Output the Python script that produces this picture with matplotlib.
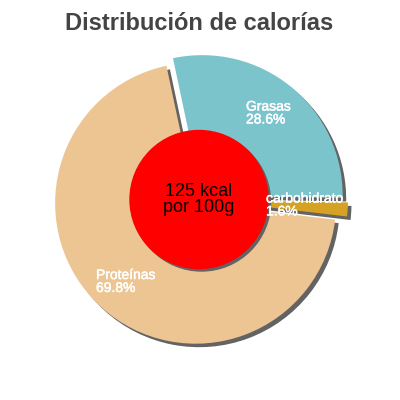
import matplotlib
matplotlib.use("Agg")
import matplotlib.pyplot as plt
import matplotlib.patheffects as pe
from matplotlib.patches import Circle

# data
labels = ["Grasas", "carbohidrato", "Proteínas"]
percents = [28.6, 1.6, 69.8]
colors = ["#7cc4cc", "#d6a223", "#edc592"]
center_text = "125 kcal\npor 100g"
title = "Distribución de calorías"

plt.rcParams['font.family'] = ['Liberation Sans', 'DejaVu Sans']

fig = plt.figure(figsize=(4, 4), dpi=100)
ax = fig.add_axes([0, 0, 1, 1])

# axes in pixel units, y up
cx, cy, R = 199, 400 - 199.5, 140.5
explode = [5, 8.5, 5]
shadow_off = (3.5, -3.5)
start = 102

# shadow pie
ax.pie(percents, colors=["#636363"] * 3, startangle=start, counterclock=False,
       explode=explode, center=(cx + shadow_off[0], cy + shadow_off[1]),
       radius=R, frame=True)
# pie
ax.pie(percents, colors=colors, startangle=start, counterclock=False,
       explode=explode, center=(cx, cy), radius=R, frame=True)
ax.set_xlim(0, 400)
ax.set_ylim(0, 400)
ax.set_aspect('equal')
ax.axis('off')

# red center circle + shadow
ax.add_patch(Circle((cx + 2.5, cy - 2.5), 69, color="#636363", zorder=3))
ax.add_patch(Circle((cx, cy), 69, color="#ff0000", zorder=4))
ax.text(cx, cy, center_text, ha='center', va='center', fontsize=13,
        color='black', zorder=5, linespacing=1.0)

# slice labels
label_pos = [(246, 400 - 113), (266, 400 - 205), (96, 400 - 281.5)]
for (x, y), lab, p in zip(label_pos, labels, percents):
    ax.text(x, y, f"{lab}\n{p:.1f}%", ha='left', va='center', fontsize=10,
            color='white', zorder=6, linespacing=0.9,
            path_effects=[pe.withStroke(linewidth=0.35, foreground='white')])

fig.text(0.4975, 0.9425, title, ha='center', va='center', fontsize=17,
         fontweight='bold', color='#444444')

fig.savefig("out.png", dpi=100)
